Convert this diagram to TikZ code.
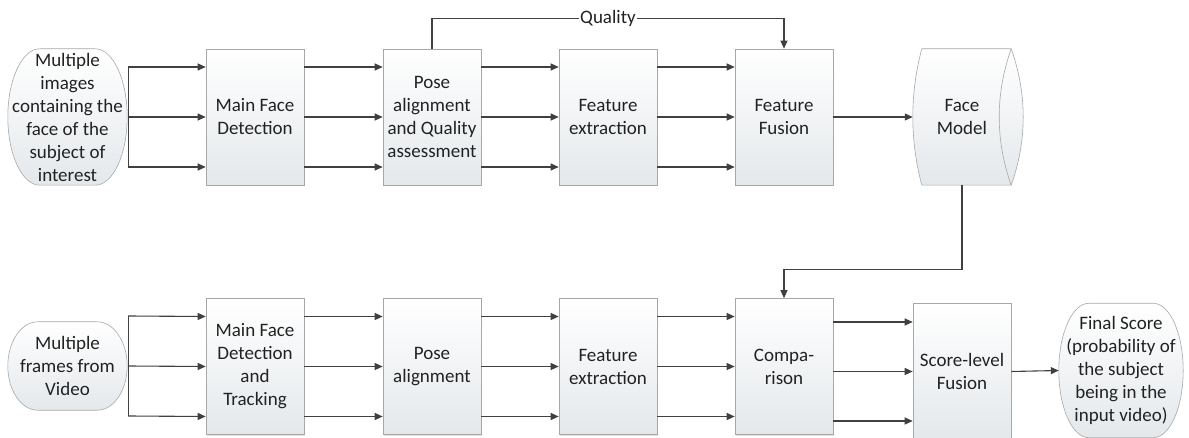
\documentclass[tikz,border=0pt]{standalone}
\usepackage{fontspec}
\setmainfont{Carlito}
\usetikzlibrary{arrows.meta,calc,shadows}
\pgfdeclarelayer{bg}
\pgfsetlayers{bg,main}
\definecolor{edge}{HTML}{A8A8A8}
\definecolor{shadeb}{HTML}{E4E8EB}
\definecolor{wire}{HTML}{404040}
\definecolor{ink}{HTML}{222222}
\tikzset{
  lbl/.style={font=\fontsize{19}{23}\selectfont, align=center, text=ink},
  stagebox/.style={lbl, draw=edge, line width=0.6pt, top color=white, bottom color=shadeb,
    minimum width=98pt, minimum height=136pt, inner sep=0pt,
    drop shadow={shadow xshift=1.2pt, shadow yshift=-1.2pt, opacity=0.35, fill=black!35}},
  ghost/.style={lbl, inner sep=0pt},
  arr/.style={draw=wire, line width=1.1pt, -{Triangle[length=8pt,width=7pt]}},
  wirepath/.style={draw=wire, line width=1.1pt},
  outline/.style={draw=edge, line width=0.6pt, top color=white, bottom color=shadeb},
}
% capsule outline behind a node: #1 node name, #2 horizontal corner radius
\newcommand{\capsule}[2]{%
  \begin{pgfonlayer}{bg}
  \path[outline] let \p1=(#1.north), \p2=(#1.south), \n1={(\y1-\y2)/2} in
    ([xshift=#2]#1.north west) -- ([xshift=-#2]#1.north east)
    arc[start angle=90, end angle=-90, x radius=#2, y radius=\n1]
    -- ([xshift=#2]#1.south west)
    arc[start angle=270, end angle=90, x radius=#2, y radius=\n1] -- cycle;
  \end{pgfonlayer}}
\begin{document}
\begin{tikzpicture}[x=1pt, y=-1pt]
\useasboundingbox (0,0) rectangle (1189,438);

% ---------- enrolment row ----------
\node[ghost, minimum width=119pt, minimum height=136pt] (in1) at (67.5,117)
  {Multiple\\images\\containing the\\face of the\\subject of\\interest};
\node[stagebox] (mfd) at (255,117) {Main Face\\Detection};
\node[stagebox] (pqa) at (432,117) {Pose\\alignment\\and Quality\\assessment};
\node[stagebox] (fe1) at (608,117) {Feature\\extraction};
\node[stagebox] (ff)  at (784,117) {Feature\\Fusion};
\node[ghost, minimum width=110pt, minimum height=136pt] (fm) at (962,117) {Face\\Model};

% ---------- test row ----------
\node[ghost, minimum width=119pt, minimum height=88pt] (in2) at (67.5,366)
  {Multiple\\frames from\\Video};
\node[stagebox] (mfdt) at (255,366.5) {Main Face\\Detection\\and\\Tracking};
\node[stagebox] (pa)   at (432,366.5) {Pose\\alignment};
\node[stagebox] (fe2)  at (608,366.5) {Feature\\extraction};
\node[stagebox] (cmp)  at (784,366.5) {Compa-\\rison};
\node[stagebox, minimum height=137pt] (sf) at (962,371.5) {Score-level\\Fusion};
\node[ghost, minimum width=124pt, minimum height=134pt] (fin) at (1121,370.5)
  {Final Score\\(probability of\\the subject\\being in the\\input video)};

% terminal shapes
\capsule{in1}{32pt}
\capsule{in2}{30pt}
\capsule{fin}{30pt}

% face model store (horizontal cylinder)
\coordinate (fa) at ([xshift=15pt]fm.north west);
\coordinate (fb) at ([xshift=-6pt]fm.north east);
\coordinate (fc) at ([xshift=-6pt]fm.south east);
\coordinate (fd) at ([xshift=15pt]fm.south west);
\begin{pgfonlayer}{bg}
\path[outline] (fa) -- (fb) .. controls +(16pt,-45pt) and +(16pt,45pt) .. (fc)
  -- (fd) .. controls +(-12pt,45pt) and +(-12pt,-45pt) .. (fa) -- cycle;
\draw[draw=edge, line width=0.6pt] (fb) .. controls +(-16pt,-45pt) and +(-16pt,45pt) .. (fc);
\end{pgfonlayer}

% ---------- forks from the inputs ----------
\coordinate (k1) at ($(in1.east)+(1,0)$);
\coordinate (k2) at ($(in2.east)+(1,0)$);
\foreach \k/\b in {k1/mfd, k2/mfdt}{
  \draw[wirepath] ([yshift=50pt]\k) -- ([yshift=-50pt]\k);
  \foreach \d in {-50,0,50}
    \draw[arr] ([yshift=\d pt]\k) -- ([yshift=\d pt]\b.west);
}

% ---------- triple links between stages ----------
\foreach \a/\b in {mfd/pqa, pqa/fe1, fe1/ff, mfdt/pa, pa/fe2, fe2/cmp}
  \foreach \d in {-50,0,50}
    \draw[arr] ([yshift=\d pt]\a.east) -- ([yshift=\d pt]\b.west);

\foreach \d in {-49.5,0,49.5}{
  \coordinate (t) at ([yshift=\d pt]sf.west);
  \draw[arr] (cmp.east |- t) -- (t);
}

% ---------- single links ----------
\draw[arr] (ff.east) -- ([xshift=6pt]fm.west);
\draw[arr] (sf.east) -- (fin.west);
\draw[arr] (pqa.north) -- ++(0,-30) -| node[pos=0.25, lbl, fill=white, inner sep=1.5pt] (q) {Quality} (ff.north);
\draw[arr] (fm.south) -- ++(0,84) -| (cmp.north);
\end{tikzpicture}
\end{document}
